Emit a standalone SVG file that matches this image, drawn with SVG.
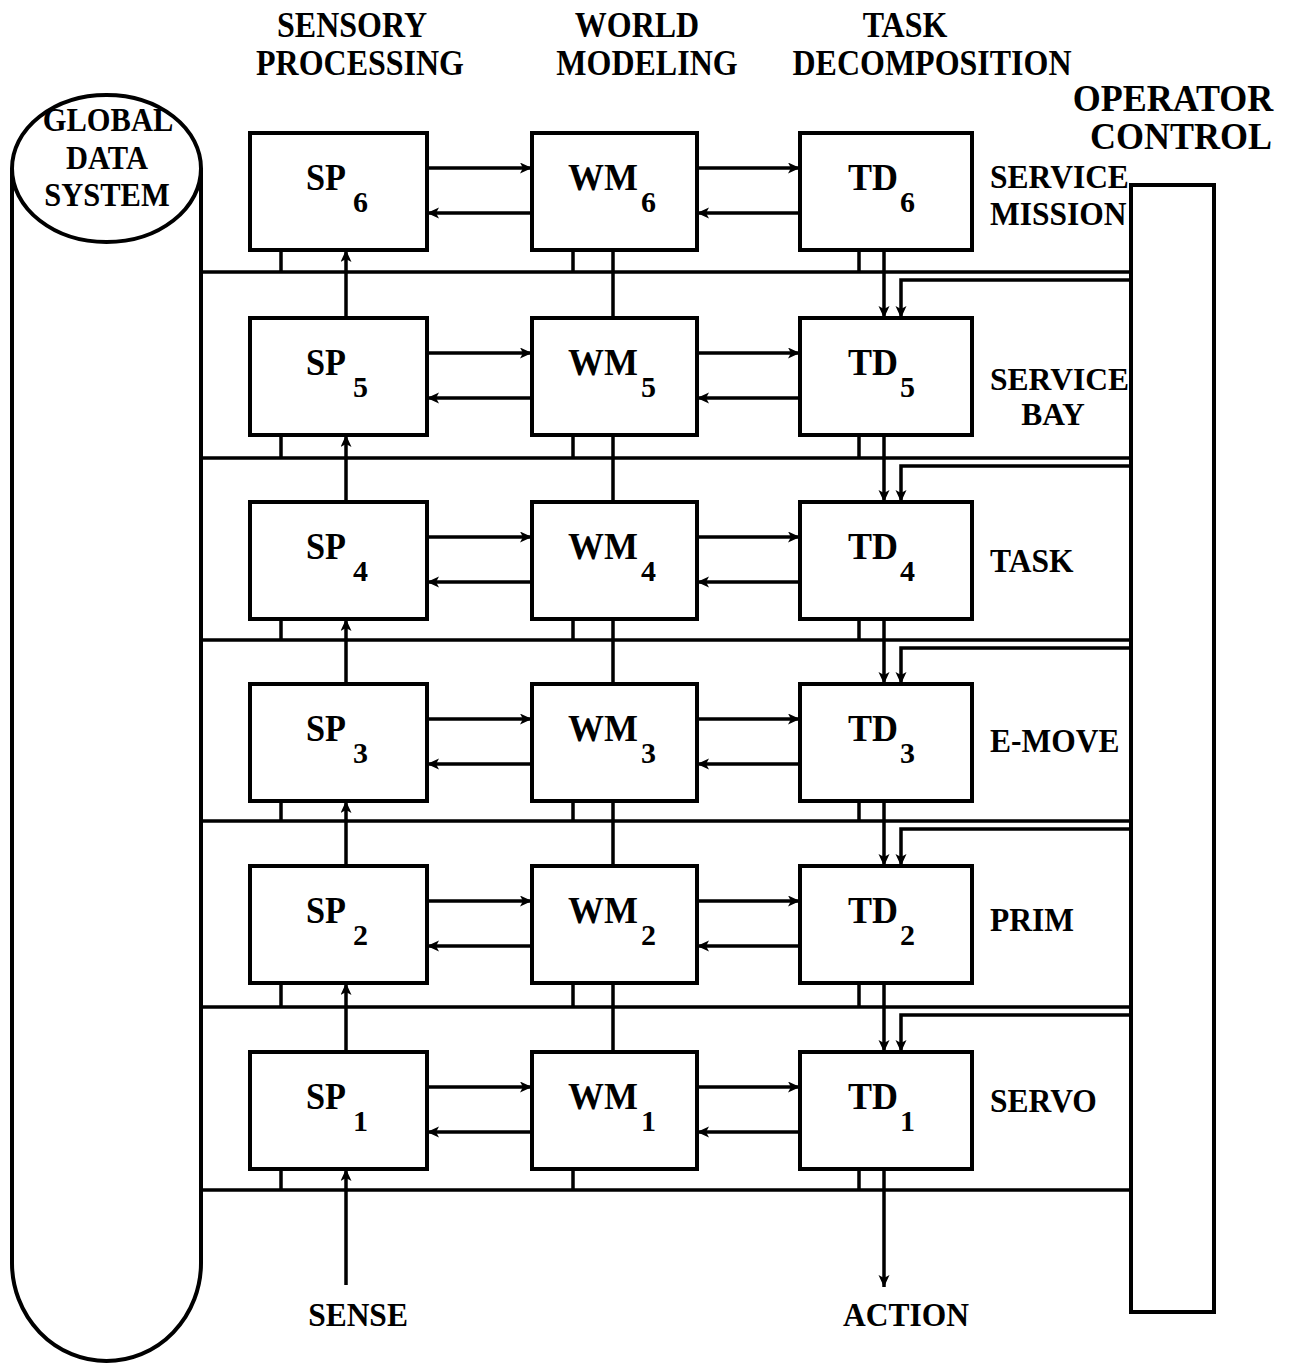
<svg xmlns="http://www.w3.org/2000/svg" width="1291" height="1363" viewBox="0 0 1291 1363">
<style>
.bg{fill:#fff}
.box{fill:#fff;stroke:#000;stroke-width:4}
.ln{fill:none;stroke:#000;stroke-width:3.5}
.ar{fill:none;stroke:#000;stroke-width:3.5;marker-end:url(#ah)}
text{font-family:"Liberation Serif","Times New Roman",serif;font-weight:bold;fill:#000}
.h{font-size:32px;text-anchor:middle}
.op{font-size:36px;text-anchor:middle}
.r{font-size:31.5px}
.rc{font-size:31.5px;text-anchor:middle}
.g{font-size:30.5px;text-anchor:middle}
.lab{font-size:38px}
.sub{font-size:30px}
</style>
<defs>
<marker id="ah" markerUnits="userSpaceOnUse" markerWidth="14" markerHeight="12" refX="12" refY="5.5" orient="auto">
<path d="M0,0 L12,5.5 L0,11 L3,5.5 z" fill="#000"/>
</marker>
</defs>
<rect class="bg" x="0" y="0" width="1291" height="1363"/>

<g id="headers">
<text class="h" transform="translate(352,37) scale(1,1.1)">SENSORY</text>
<text class="h" transform="translate(360,75) scale(1,1.1)">PROCESSING</text>
<text class="h" transform="translate(637,37) scale(1,1.1)">WORLD</text>
<text class="h" transform="translate(647,75) scale(1,1.1)">MODELING</text>
<text class="h" transform="translate(905,37) scale(1,1.1)">TASK</text>
<text class="h" transform="translate(932,75) scale(1,1.1)">DECOMPOSITION</text>
</g>

<g id="global-data-system">
<path class="box" d="M12,168 L12,1263 A94.5,98 0 0 0 201,1263 L201,168"/>
<ellipse class="box" cx="106.5" cy="168.5" rx="94.5" ry="73.5"/>
<text class="g" transform="translate(108,131) scale(1,1.08)">GLOBAL</text>
<text class="g" transform="translate(107,169) scale(1,1.08)">DATA</text>
<text class="g" transform="translate(107,206) scale(1,1.08)">SYSTEM</text>
</g>

<g id="operator-control">
<rect class="box" x="1131" y="185" width="83" height="1127"/>
<text class="op" transform="translate(1173,111) scale(1,1.05)">OPERATOR</text>
<text class="op" transform="translate(1181,149) scale(1,1.05)">CONTROL</text>
</g>

<g id="connectors">
<path class="ln" d="M201,272 H1131 M201,458 H1131 M201,640 H1131 M201,821 H1131 M201,1007 H1131 M201,1190 H1131"/>
<path class="ln" d="M281,250 V272 M573,250 V272 M859,250 V272
M281,435 V458 M573,435 V458 M859,435 V458
M281,619 V640 M573,619 V640 M859,619 V640
M281,801 V821 M573,801 V821 M859,801 V821
M281,983 V1007 M573,983 V1007 M859,983 V1007
M281,1169 V1190 M573,1169 V1190 M859,1169 V1190"/>
<path class="ln" d="M613,250 V318 M613,435 V502 M613,619 V684 M613,801 V866 M613,983 V1052"/>
<g>
<line class="ar" x1="427" y1="168" x2="532" y2="168"/><line class="ar" x1="532" y1="213" x2="427" y2="213"/>
<line class="ar" x1="697" y1="168" x2="800" y2="168"/><line class="ar" x1="800" y1="213" x2="697" y2="213"/>
<line class="ar" x1="427" y1="353" x2="532" y2="353"/><line class="ar" x1="532" y1="398" x2="427" y2="398"/>
<line class="ar" x1="697" y1="353" x2="800" y2="353"/><line class="ar" x1="800" y1="398" x2="697" y2="398"/>
<line class="ar" x1="427" y1="537" x2="532" y2="537"/><line class="ar" x1="532" y1="582" x2="427" y2="582"/>
<line class="ar" x1="697" y1="537" x2="800" y2="537"/><line class="ar" x1="800" y1="582" x2="697" y2="582"/>
<line class="ar" x1="427" y1="719" x2="532" y2="719"/><line class="ar" x1="532" y1="764" x2="427" y2="764"/>
<line class="ar" x1="697" y1="719" x2="800" y2="719"/><line class="ar" x1="800" y1="764" x2="697" y2="764"/>
<line class="ar" x1="427" y1="901" x2="532" y2="901"/><line class="ar" x1="532" y1="946" x2="427" y2="946"/>
<line class="ar" x1="697" y1="901" x2="800" y2="901"/><line class="ar" x1="800" y1="946" x2="697" y2="946"/>
<line class="ar" x1="427" y1="1087" x2="532" y2="1087"/><line class="ar" x1="532" y1="1132" x2="427" y2="1132"/>
<line class="ar" x1="697" y1="1087" x2="800" y2="1087"/><line class="ar" x1="800" y1="1132" x2="697" y2="1132"/>
</g>
<line class="ar" x1="346" y1="318" x2="346" y2="250"/>
<line class="ar" x1="346" y1="502" x2="346" y2="435"/>
<line class="ar" x1="346" y1="684" x2="346" y2="619"/>
<line class="ar" x1="346" y1="866" x2="346" y2="801"/>
<line class="ar" x1="346" y1="1052" x2="346" y2="983"/>
<line class="ar" x1="346" y1="1285" x2="346" y2="1169"/>
<line class="ar" x1="884" y1="250" x2="884" y2="318"/>
<line class="ar" x1="884" y1="435" x2="884" y2="502"/>
<line class="ar" x1="884" y1="619" x2="884" y2="684"/>
<line class="ar" x1="884" y1="801" x2="884" y2="866"/>
<line class="ar" x1="884" y1="983" x2="884" y2="1052"/>
<line class="ar" x1="884" y1="1169" x2="884" y2="1287"/>
<path class="ar" d="M1131,280 H901 V318"/>
<path class="ar" d="M1131,466 H901 V502"/>
<path class="ar" d="M1131,648 H901 V684"/>
<path class="ar" d="M1131,829 H901 V866"/>
<path class="ar" d="M1131,1015 H901 V1052"/>
</g>

<g id="sp6"><rect class="box" x="250" y="133" width="177" height="117"/><text class="lab" x="306" y="190" textLength="40" lengthAdjust="spacingAndGlyphs">SP</text><text class="sub" x="353" y="212">6</text></g>
<g id="wm6"><rect class="box" x="532" y="133" width="165" height="117"/><text class="lab" x="568" y="190" textLength="70" lengthAdjust="spacingAndGlyphs">WM</text><text class="sub" x="641" y="212">6</text></g>
<g id="td6"><rect class="box" x="800" y="133" width="172" height="117"/><text class="lab" x="848" y="190" textLength="50" lengthAdjust="spacingAndGlyphs">TD</text><text class="sub" x="900" y="212">6</text></g>

<g id="sp5"><rect class="box" x="250" y="318" width="177" height="117"/><text class="lab" x="306" y="375" textLength="40" lengthAdjust="spacingAndGlyphs">SP</text><text class="sub" x="353" y="397">5</text></g>
<g id="wm5"><rect class="box" x="532" y="318" width="165" height="117"/><text class="lab" x="568" y="375" textLength="70" lengthAdjust="spacingAndGlyphs">WM</text><text class="sub" x="641" y="397">5</text></g>
<g id="td5"><rect class="box" x="800" y="318" width="172" height="117"/><text class="lab" x="848" y="375" textLength="50" lengthAdjust="spacingAndGlyphs">TD</text><text class="sub" x="900" y="397">5</text></g>

<g id="sp4"><rect class="box" x="250" y="502" width="177" height="117"/><text class="lab" x="306" y="559" textLength="40" lengthAdjust="spacingAndGlyphs">SP</text><text class="sub" x="353" y="581">4</text></g>
<g id="wm4"><rect class="box" x="532" y="502" width="165" height="117"/><text class="lab" x="568" y="559" textLength="70" lengthAdjust="spacingAndGlyphs">WM</text><text class="sub" x="641" y="581">4</text></g>
<g id="td4"><rect class="box" x="800" y="502" width="172" height="117"/><text class="lab" x="848" y="559" textLength="50" lengthAdjust="spacingAndGlyphs">TD</text><text class="sub" x="900" y="581">4</text></g>

<g id="sp3"><rect class="box" x="250" y="684" width="177" height="117"/><text class="lab" x="306" y="741" textLength="40" lengthAdjust="spacingAndGlyphs">SP</text><text class="sub" x="353" y="763">3</text></g>
<g id="wm3"><rect class="box" x="532" y="684" width="165" height="117"/><text class="lab" x="568" y="741" textLength="70" lengthAdjust="spacingAndGlyphs">WM</text><text class="sub" x="641" y="763">3</text></g>
<g id="td3"><rect class="box" x="800" y="684" width="172" height="117"/><text class="lab" x="848" y="741" textLength="50" lengthAdjust="spacingAndGlyphs">TD</text><text class="sub" x="900" y="763">3</text></g>

<g id="sp2"><rect class="box" x="250" y="866" width="177" height="117"/><text class="lab" x="306" y="923" textLength="40" lengthAdjust="spacingAndGlyphs">SP</text><text class="sub" x="353" y="945">2</text></g>
<g id="wm2"><rect class="box" x="532" y="866" width="165" height="117"/><text class="lab" x="568" y="923" textLength="70" lengthAdjust="spacingAndGlyphs">WM</text><text class="sub" x="641" y="945">2</text></g>
<g id="td2"><rect class="box" x="800" y="866" width="172" height="117"/><text class="lab" x="848" y="923" textLength="50" lengthAdjust="spacingAndGlyphs">TD</text><text class="sub" x="900" y="945">2</text></g>

<g id="sp1"><rect class="box" x="250" y="1052" width="177" height="117"/><text class="lab" x="306" y="1109" textLength="40" lengthAdjust="spacingAndGlyphs">SP</text><text class="sub" x="353" y="1131">1</text></g>
<g id="wm1"><rect class="box" x="532" y="1052" width="165" height="117"/><text class="lab" x="568" y="1109" textLength="70" lengthAdjust="spacingAndGlyphs">WM</text><text class="sub" x="641" y="1131">1</text></g>
<g id="td1"><rect class="box" x="800" y="1052" width="172" height="117"/><text class="lab" x="848" y="1109" textLength="50" lengthAdjust="spacingAndGlyphs">TD</text><text class="sub" x="900" y="1131">1</text></g>

<g id="level-labels">
<text class="r" transform="translate(990,188) scale(1,1.05)">SERVICE</text>
<text class="r" transform="translate(990,225) scale(1,1.05)">MISSION</text>
<text class="r" transform="translate(990,390)">SERVICE</text>
<text class="rc" transform="translate(1053,425)">BAY</text>
<text class="r" transform="translate(990,572) scale(1,1.08)">TASK</text>
<text class="r" transform="translate(990,752) scale(1,1.08)">E-MOVE</text>
<text class="r" transform="translate(990,931) scale(1,1.08)">PRIM</text>
<text class="r" transform="translate(990,1112) scale(1,1.08)">SERVO</text>
</g>

<g id="io-labels">
<text class="rc" transform="translate(358,1326) scale(1,1.08)">SENSE</text>
<text class="rc" transform="translate(906,1326) scale(1,1.08)">ACTION</text>
</g>
</svg>
